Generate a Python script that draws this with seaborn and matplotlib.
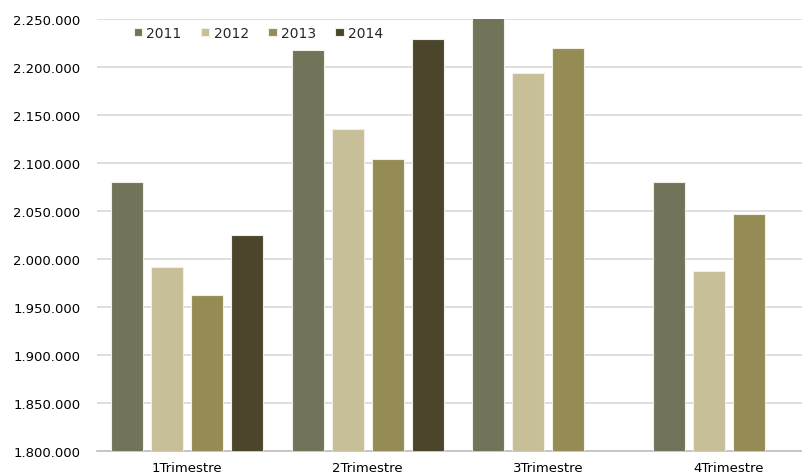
import numpy as np
import pandas as pd
import matplotlib
matplotlib.use("Agg")
import matplotlib.pyplot as plt
import seaborn as sns
from matplotlib.ticker import FuncFormatter

categories = ["1Trimestre", "2Trimestre", "3Trimestre", "4Trimestre"]
years = ["2011", "2012", "2013", "2014"]
v2011 = [2080000, 2217500, 2252000, 2080000]
v2012 = [1991500, 2135000, 2193500, 1987000]
v2013 = [1962500, 2104000, 2219500, 2046500]
v2014 = [2025000, 2229000, np.nan, np.nan]
colors = ["#727459", "#C6BF98", "#958B55", "#4B452C"]

rows = []
for y, vals in zip(years, [v2011, v2012, v2013, v2014]):
    for c, v in zip(categories, vals):
        if not np.isnan(v):
            rows.append({"cat": c, "year": y, "value": v})
df = pd.DataFrame(rows)

sns.set_theme(style="white")
plt.rcParams["font.family"] = ["DejaVu Sans"]

W, H = 803, 477
fig = plt.figure(figsize=(W / 100, H / 100), dpi=100)
left, right = 97, 819
bottom, top = 452, 20
ax = fig.add_axes([left / W, (H - bottom) / H, (right - left) / W, (bottom - top) / H])

sns.barplot(data=df, x="cat", y="value", hue="year", order=categories,
            hue_order=years, palette=colors, saturation=1, width=0.885, gap=0.2,
            edgecolor="#F2F0E6", linewidth=0.8, ax=ax, zorder=3, errorbar=None)

ax.set_xlim(-0.5, 3.5)
ax.set_ylim(1800000, 2250000)
ax.set_yticks(np.arange(1800000, 2250001, 50000))
ax.yaxis.set_major_formatter(FuncFormatter(lambda v, p: f"{int(v):,}".replace(",", ".")))
ax.grid(axis="y", color="#D9D9D9", linewidth=1.2, zorder=0)
ax.set_axisbelow(True)
for s in ["left", "right", "top"]:
    ax.spines[s].set_visible(False)
ax.spines["bottom"].set_color("#BFBFBF")
ax.spines["bottom"].set_linewidth(1.2)
ax.set_xlabel("")
ax.set_ylabel("")
ax.tick_params(axis="both", length=0, labelsize=9.5, labelcolor="#000000")
ax.tick_params(axis="y", pad=12)
ax.tick_params(axis="x", pad=7)

leg = ax.legend(loc="upper left", bbox_to_anchor=(30 / (right - left), 1.0),
                ncol=4, frameon=False, fontsize=10, handlelength=0.6,
                handleheight=0.6, handletextpad=0.3, columnspacing=1.4,
                borderaxespad=0.1)

fig.savefig("out.png", dpi=100)
